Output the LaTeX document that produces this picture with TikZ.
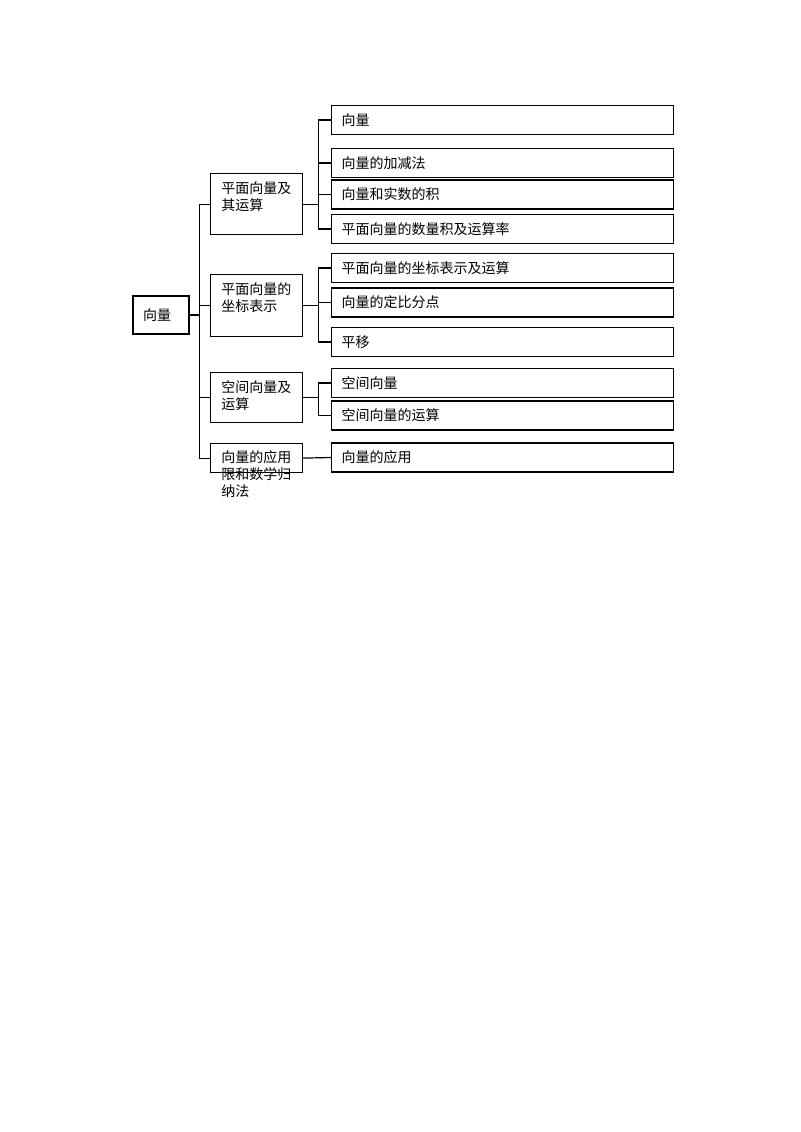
\documentclass[tikz,border=0pt]{standalone}
\usepackage{fontspec}
\setmainfont{Noto Sans CJK SC}
\usetikzlibrary{positioning, calc}

\begin{document}
\begin{tikzpicture}[x=0.75pt, y=-0.75pt,
		rootbox/.style={
			rectangle,
			draw=black, line width=0.9pt,
			minimum width=42pt,
			minimum height=28.5pt,
			text width=27pt,
			inner xsep=7.5pt,
			align=left,
			font=\fontsize{10.5}{12.75}\selectfont},
		groupbox/.style={
			rectangle,
			draw=black, line width=0.9pt,
			minimum width=69pt,
			inner sep=0pt,
			anchor=north west},
		grouptext/.style={
			anchor=north west,
			inner sep=0pt,
			align=left,
			font=\fontsize{10.5}{12.75}\selectfont},
		leafbox/.style={
			rectangle,
			draw=black, line width=0.9pt,
			anchor=west,
			text width=241.5pt,
			inner xsep=7.5pt, inner ysep=0pt,
			minimum height=21.75pt,
			align=left,
			font=\fontsize{10.5}{12.75}\selectfont},
		line/.style={line width=0.9pt, draw}]
		\useasboundingbox (0,0) rectangle (800,1132);
		% root
		\node[rootbox] (root) at (161,315) {向量};
		% second level
		\node[groupbox, minimum height=45.75pt] (pa) at (210,173) {};
		\node[groupbox, minimum height=46.5pt] (pb) at (210,274) {};
		\node[groupbox, minimum height=37.5pt] (pc) at (210,372) {};
		\node[groupbox, minimum height=21.75pt] (pd) at (210,443) {};
		\node[grouptext] (ta) at ([shift={(11,8.5)}]pa.north west) {平面向量及\\其运算};
		\node[grouptext] (tb) at ([shift={(11,8.5)}]pb.north west) {平面向量的\\坐标表示};
		\node[grouptext] (tc) at ([shift={(11,8.5)}]pc.north west) {空间向量及\\运算};
		\node[grouptext] (td) at ([shift={(11,7.5)}]pd.north west) {向量的应用\\限和数学归\\纳法};
		% leaves
		\node[leafbox] (la) at (331,120) {向量};
		\node[leafbox] (lb) at (331,163) {向量的加减法};
		\node[leafbox] (lc) at (331,194.5) {向量和实数的积};
		\node[leafbox] (ld) at (331,229) {平面向量的数量积及运算率};
		\node[leafbox] (le) at (331,268) {平面向量的坐标表示及运算};
		\node[leafbox] (lf) at (331,302.5) {向量的定比分点};
		\node[leafbox] (lg) at (331,342) {平移};
		\node[leafbox] (lh) at (331,383) {空间向量};
		\node[leafbox] (li) at (331,415.5) {空间向量的运算};
		\node[leafbox] (lj) at (331,457.5) {向量的应用};
		% connectors
		\coordinate (trunk) at ([xshift=7.5pt]root.east);
		\draw[line] (root.east) -- (trunk);
		\foreach \p in {pa,pb,pc,pd}
			\draw[line] (trunk) |- (\p.west);
		\coordinate (ja) at ([xshift=11.25pt]pa.east);
		\draw[line] (pa.east) -- (ja);
		\foreach \l in {la,lb,lc,ld}
			\draw[line] (ja) |- (\l.west);
		\coordinate (jb) at ([xshift=11.25pt]pb.east);
		\draw[line] (pb.east) -- (jb);
		\foreach \l in {le,lf,lg}
			\draw[line] (jb) |- (\l.west);
		\coordinate (jc) at ([xshift=11.25pt]pc.east);
		\draw[line] (pc.east) -- (jc);
		\foreach \l in {lh,li}
			\draw[line] (jc) |- (\l.west);
		\draw[line] (pd.east) -- (lj.west);
\end{tikzpicture}
\end{document}
